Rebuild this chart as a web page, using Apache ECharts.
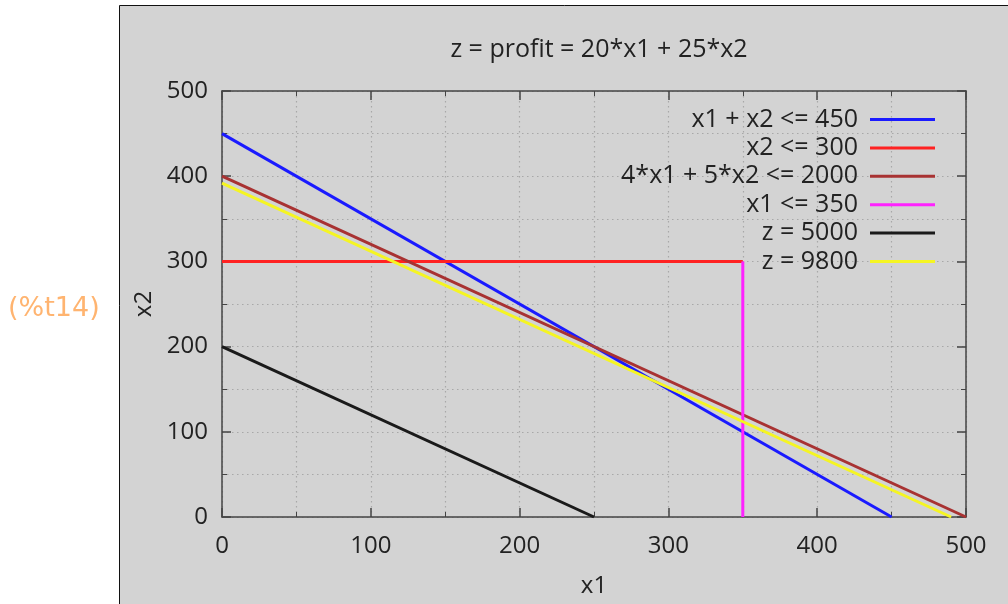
<!DOCTYPE html>
<html>
<head>
<meta charset="utf-8">
<script src="https://cdn.jsdelivr.net/npm/echarts@6/dist/echarts.min.js"></script>
<style>
  html, body { margin: 0; padding: 0; background: #fff; }
  #chart { width: 1008px; height: 604px; }
</style>
</head>
<body>
<div id="chart"></div>
<script>
// constraint lines, each as [x1, x2] end points
const names = ["x1 + x2 <= 450", "x2 <= 300", "4*x1 + 5*x2 <= 2000", "x1 <= 350", "z = 5000", "z = 9800"];
const colors = ["#1a1aff", "#ff2222", "#a83232", "#ff22ff", "#1a1a1a", "#f5f522"];
const sumLine = [[0, 450], [450, 0]];
const x2Limit = [[0, 300], [350, 300]];
const resLine = [[0, 400], [500, 0]];
const x1Limit = [[350, 0], [350, 300]];
const z5000 = [[0, 200], [250, 0]];
const z9800 = [[0, 392], [490, 0]];
const lines = [sumLine, x2Limit, resLine, x1Limit, z5000, z9800];

const FONT = "Open Sans";
const FS = 24;
const chart = echarts.init(document.getElementById("chart"));

const dotted = { show: true, lineStyle: { color: "#a8a8a8", width: 1.2, type: [1.5, 3.5] } };

function axisCommon(pos, labels) {
  return {
    type: "value",
    position: pos,
    min: 0,
    max: 500,
    interval: 100,
    axisLine: { show: true, onZero: false, lineStyle: { color: "#444", width: 1.5 } },
    axisTick: { show: true, inside: true, length: 9, lineStyle: { color: "#444", width: 1.5 } },
    minorTick: { show: true, splitNumber: 2, length: 5, lineStyle: { color: "#444", width: 1 } },
    splitLine: { show: false },
    minorSplitLine: { show: false },
    axisLabel: { show: labels, color: "#222", fontFamily: FONT, fontSize: FS }
  };
}

const option = {
  animation: false,
  backgroundColor: "#fff",
  graphic: [
    {
      type: "rect",
      z: -10,
      shape: { x: 119.5, y: 5.5, width: 900, height: 610 },
      style: { fill: "#d3d3d3", stroke: "#111", lineWidth: 1 }
    },
    {
      type: "text",
      left: 8,
      top: 295,
      style: { text: "(%t14)", fill: "#ffb470", font: "27px DejaVu Sans" }
    }
  ],
  title: {
    text: "z = profit = 20*x1 + 25*x2",
    left: 594,
    textAlign: "center",
    top: 32,
    textStyle: { color: "#222", fontFamily: FONT, fontSize: 25, fontWeight: "normal" }
  },
  legend: {
    orient: "vertical",
    right: 68,
    top: 102,
    align: "right",
    icon: "rect",
    itemWidth: 65,
    itemHeight: 3,
    itemGap: 3.4,
    data: names,
    textStyle: { color: "#222", fontFamily: FONT, fontSize: 25, padding: [0, 7, 0, 0] }
  },
  grid: { left: 222, right: 42, top: 91, bottom: 87, show: false },
  xAxis: [
    Object.assign(axisCommon("bottom", true), {
      name: "x1",
      nameLocation: "middle",
      nameGap: 57,
      nameTextStyle: { color: "#222", fontFamily: FONT, fontSize: FS },
      axisLabel: { color: "#222", fontFamily: FONT, fontSize: FS, margin: 17 },
      splitLine: dotted,
      minorSplitLine: dotted
    }),
    axisCommon("top", false)
  ],
  yAxis: [
    Object.assign(axisCommon("left", true), {
      name: "x2",
      nameLocation: "middle",
      nameGap: 50,
      nameTextStyle: { color: "#222", fontFamily: FONT, fontSize: FS },
      axisLabel: { color: "#222", fontFamily: FONT, fontSize: FS, margin: 14 },
      splitLine: dotted,
      minorSplitLine: dotted
    }),
    axisCommon("right", false)
  ],
  series: lines.map((d, i) => ({
    name: names[i],
    type: "line",
    xAxisIndex: 0,
    yAxisIndex: 0,
    data: d,
    symbol: "none",
    z: 2 + i,
    lineStyle: { color: colors[i], width: 3 },
    itemStyle: { color: colors[i] }
  }))
};

chart.setOption(option);
</script>
</body>
</html>
